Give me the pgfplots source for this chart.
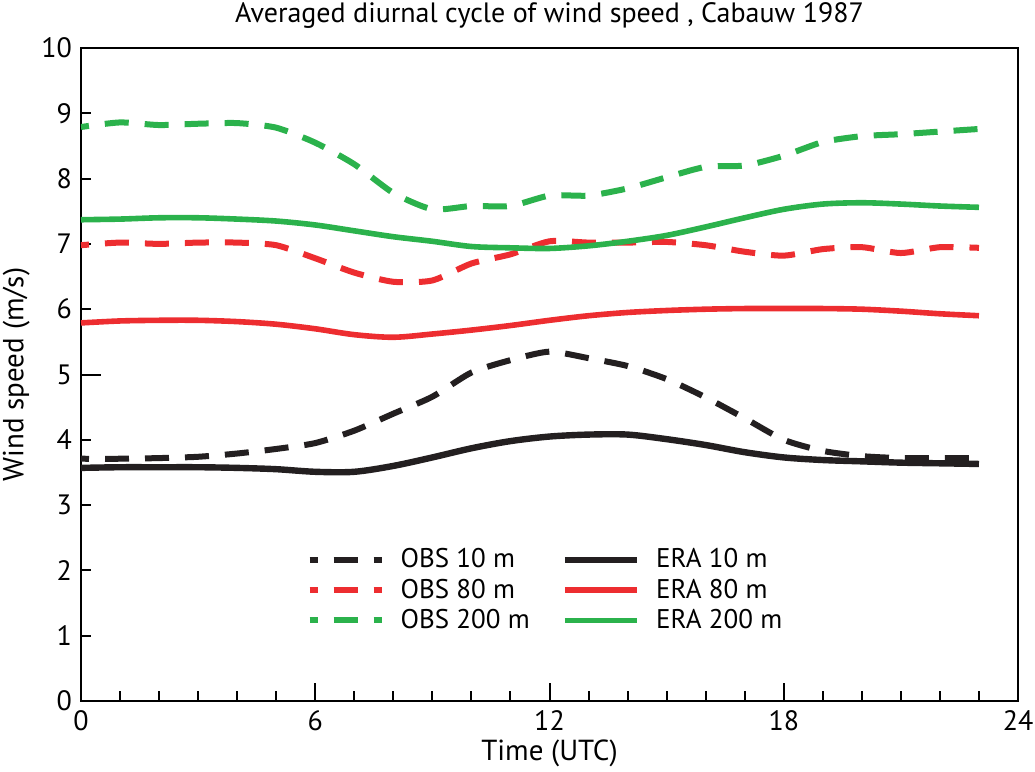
\documentclass[border=0pt]{standalone}
\usepackage{fontspec}
\setmainfont{PT Sans}
\usepackage{pgfplots}
\pgfplotsset{compat=1.18}

\definecolor{cblack}{RGB}{35,31,32}
\definecolor{cred}{RGB}{237,45,48}
\definecolor{cgreen}{RGB}{43,178,76}

% hourly means, columns: hour, value
\pgfplotstableread{
h obs10 era10 obs80 era80 obs200 era200
0  3.71 3.57 6.98 5.79 8.79 7.37
1  3.71 3.58 7.02 5.82 8.86 7.38
2  3.72 3.58 7.00 5.83 8.82 7.40
3  3.74 3.58 7.02 5.83 8.84 7.40
4  3.79 3.57 7.02 5.81 8.85 7.38
5  3.86 3.55 6.98 5.77 8.78 7.35
6  3.95 3.51 6.78 5.70 8.55 7.29
7  4.14 3.51 6.56 5.61 8.22 7.20
8  4.40 3.60 6.42 5.57 7.78 7.11
9  4.66 3.73 6.44 5.62 7.53 7.04
10 5.03 3.87 6.70 5.68 7.58 6.96
11 5.22 3.98 6.84 5.75 7.58 6.94
12 5.35 4.05 7.04 5.83 7.74 6.93
13 5.25 4.08 7.02 5.90 7.74 6.97
14 5.13 4.08 7.02 5.95 7.85 7.04
15 4.93 4.01 7.03 5.98 8.02 7.13
16 4.65 3.92 6.98 6.00 8.18 7.26
17 4.33 3.81 6.88 6.01 8.20 7.40
18 4.00 3.73 6.82 6.01 8.35 7.53
19 3.83 3.69 6.92 6.01 8.56 7.61
20 3.75 3.67 6.95 6.00 8.65 7.63
21 3.72 3.65 6.86 5.97 8.68 7.61
22 3.72 3.64 6.95 5.93 8.72 7.58
23 3.72 3.63 6.94 5.90 8.76 7.56
}\diurnal

\begin{document}
\begin{tikzpicture}
\begin{axis}[
    scale only axis,
    width=468.5pt,
    height=326.5pt,
    xmin=0, xmax=24,
    ymin=0, ymax=10,
    xtick={0,...,24},
    xticklabels={0,,,,,,6,,,,,,12,,,,,,18,,,,,,24},
    ytick={0,...,10},
    extra x ticks={6,12,18},
    extra x tick labels={},
    extra x tick style={major tick length=9pt},
    extra y ticks={5},
    extra y tick labels={},
    extra y tick style={major tick length=10pt},
    major tick length=5pt,
    tick align=inside,
    xtick pos=bottom,
    ytick pos=left,
    tick style={line width=1pt, color=black},
    axis line style={line width=1pt},
    /pgf/number format/assume math mode=true,
    ticklabel style={font=\fontsize{14}{16}\selectfont},
    xticklabel style={yshift=-1pt},
    yticklabel style={xshift=-1pt},
    title={Averaged diurnal cycle of wind speed , Cabauw 1987},
    title style={font=\fontsize{14}{16}\selectfont, yshift=0pt},
    xlabel={Time (UTC)},
    ylabel={Wind speed (m/s)},
    label style={font=\fontsize{14.5}{16}\selectfont},
    xlabel style={yshift=2pt},
    ylabel style={yshift=-1pt},
    legend columns=2,
    legend cell align=left,
    legend style={draw=none, fill=none, at={(0.234,0.246)}, anchor=north west,
        font=\fontsize{13.5}{15}\selectfont, row sep=0pt,
        /tikz/every odd column/.append style={column sep=6pt},
        /tikz/every even column/.append style={column sep=14pt}},
    legend image code/.code={\draw[#1] (0pt,0pt) -- (36pt,0pt);},
    obs/.style={line width=3pt, dash pattern=on 12pt off 8pt, dash phase=8pt, smooth, tension=0.4},
    era/.style={line width=2.8pt, smooth, tension=0.5},
]
\addplot[obs, cblack] table[x=h, y=obs10] {\diurnal};
\addlegendentry{OBS 10 m}
\addplot[era, cblack, line width=3.2pt] table[x=h, y=era10] {\diurnal};
\addlegendentry{ERA 10 m}
\addplot[obs, cred] table[x=h, y=obs80] {\diurnal};
\addlegendentry{OBS 80 m}
\addplot[era, cred] table[x=h, y=era80] {\diurnal};
\addlegendentry{ERA 80 m}
\addplot[obs, cgreen] table[x=h, y=obs200] {\diurnal};
\addlegendentry{OBS 200 m}
\addplot[era, cgreen] table[x=h, y=era200] {\diurnal};
\addlegendentry{ERA 200 m}
\coordinate (bl) at (rel axis cs:0,0);
\coordinate (tr) at (rel axis cs:1,1);
\end{axis}
\pgfresetboundingbox
\path ([xshift=-40.5pt,yshift=-35pt]bl) rectangle ([xshift=8.5pt,yshift=24pt]tr);
\end{tikzpicture}
\end{document}
